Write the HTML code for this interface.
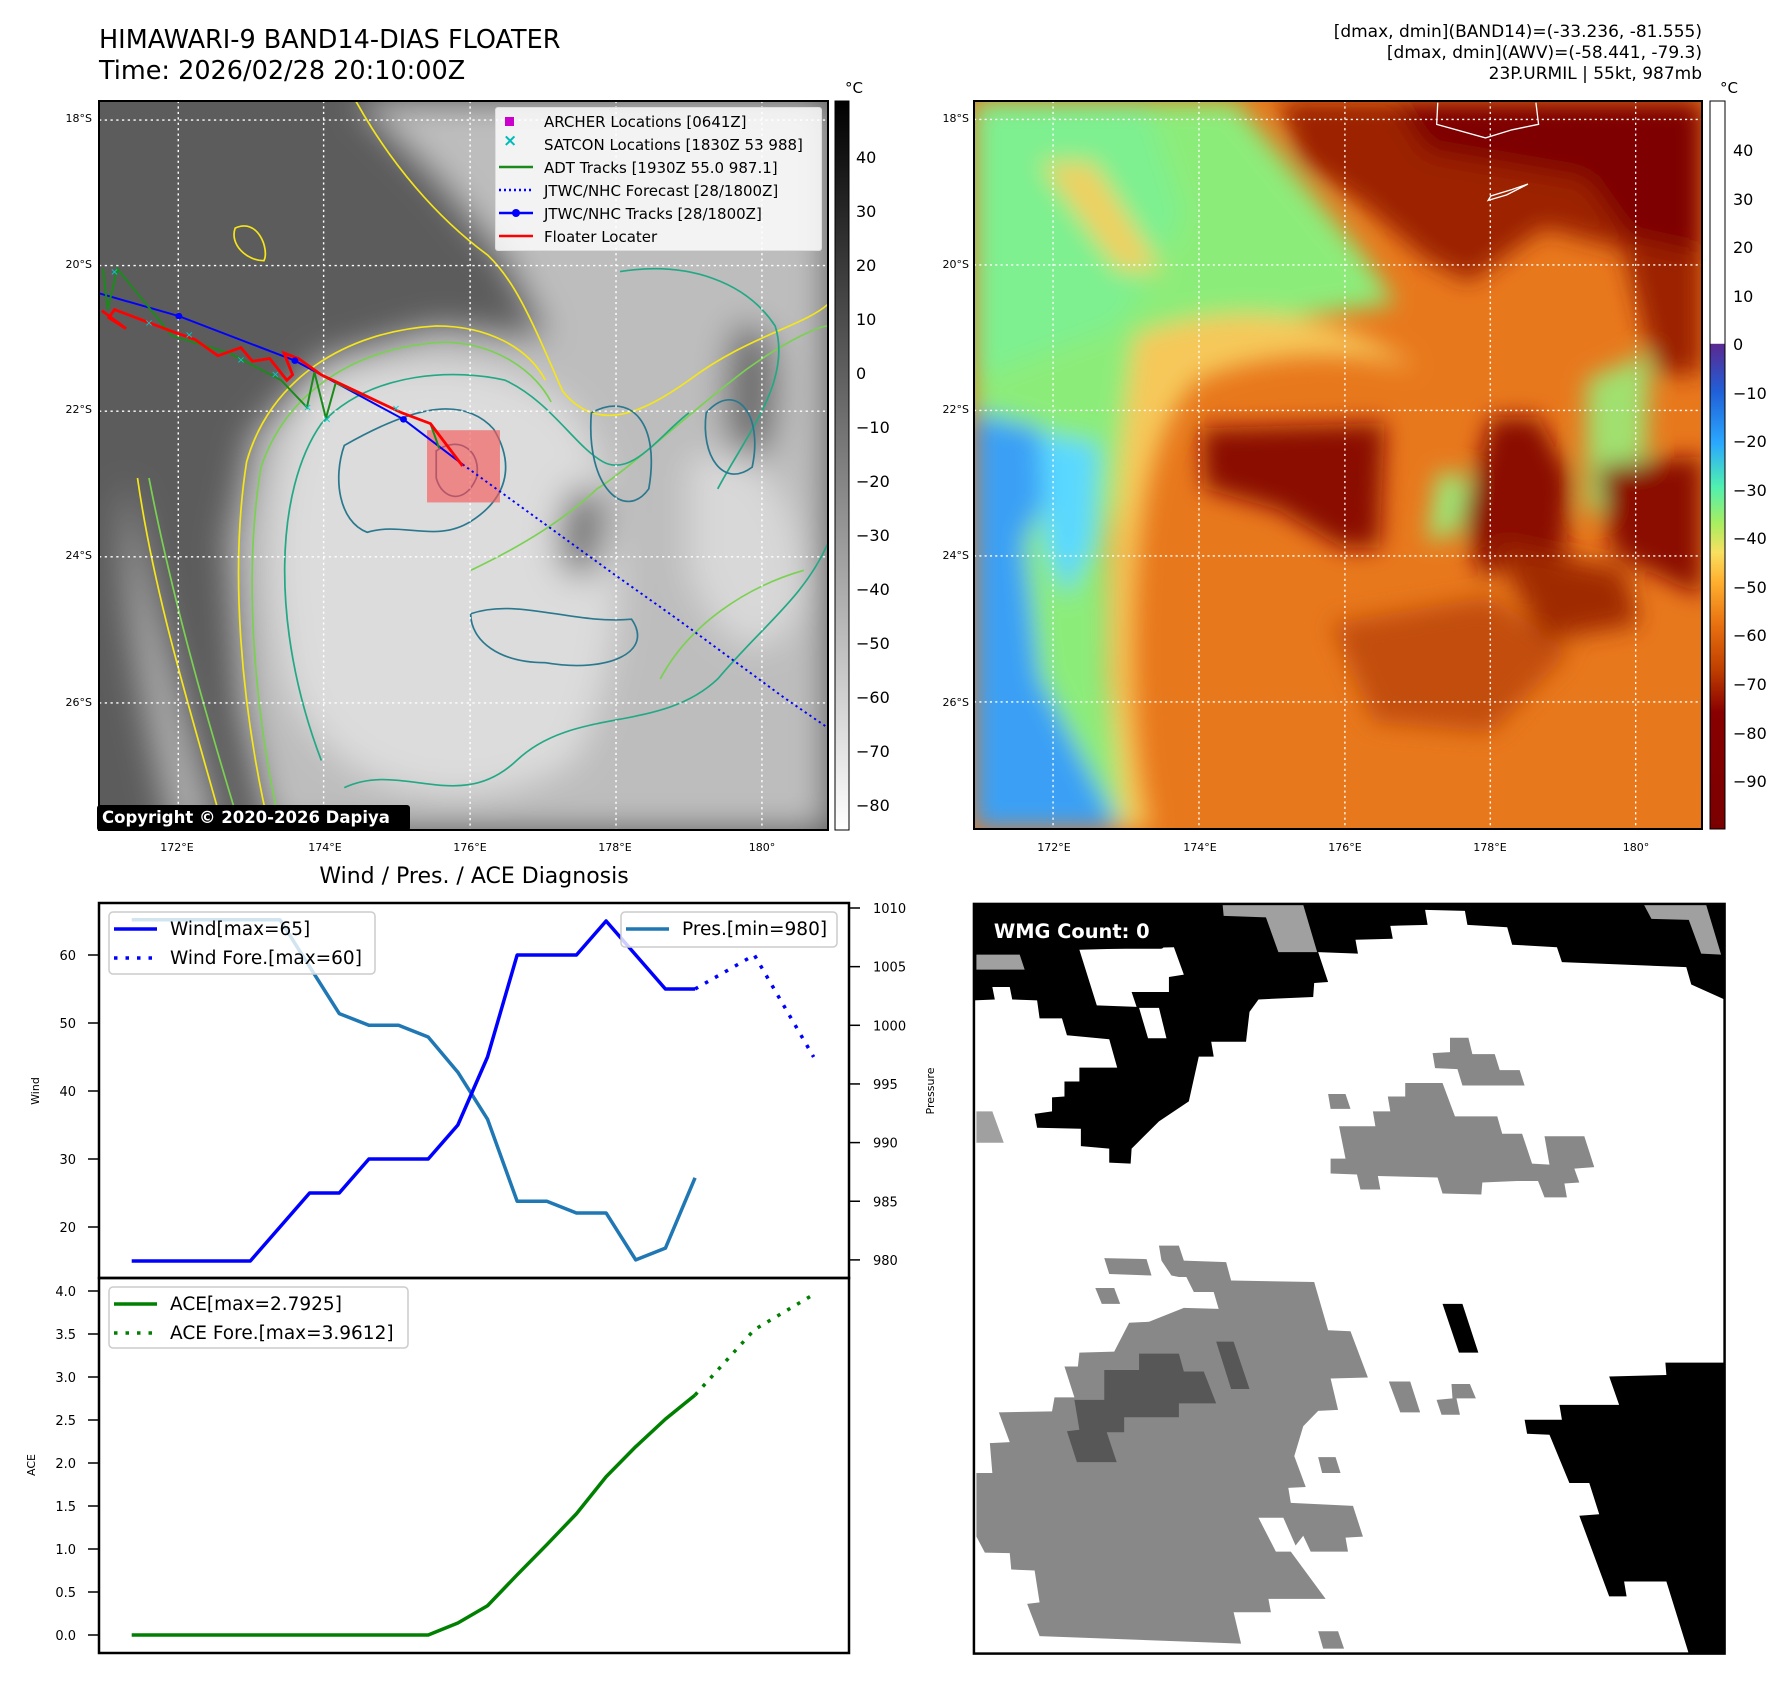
<!DOCTYPE html>
<html><head><meta charset="utf-8">
<style>
body{margin:0;background:#fff;}
#page{position:relative;width:1792px;height:1690px;overflow:hidden;background:#fff;font-family:"Liberation Sans","DejaVu Sans",sans-serif;color:#000;}
.abs{position:absolute;}
svg text{font-family:"DejaVu Sans","Liberation Sans",sans-serif;}
</style></head>
<body>
<div id="page">

<div class="abs" style="left:99px;top:25px;font-family:'DejaVu Sans',sans-serif;font-size:25.5px;line-height:31px;">HIMAWARI-9 BAND14-DIAS FLOATER<br>Time: 2026/02/28 20:10:00Z</div>
<div class="abs" style="right:90px;top:22px;text-align:right;font-family:'DejaVu Sans',sans-serif;font-size:17px;line-height:21px;">[dmax, dmin](BAND14)=(-33.236, -81.555)<br>[dmax, dmin](AWV)=(-58.441, -79.3)<br>23P.URMIL | 55kt, 987mb</div>

<!-- LEFT MAP -->
<svg class="abs" style="left:99px;top:101px" width="729" height="729" viewBox="173 186 1269 1342" preserveAspectRatio="none">
<defs>
<filter id="b1" x="-20%" y="-20%" width="140%" height="140%"><feGaussianBlur stdDeviation="30"/></filter>
</defs>
<rect x="173" y="186" width="1269" height="1342" fill="#5c5c5c"/>
<g filter="url(#b1)">
<path d="M620,186 L760,330 L880,480 L950,620 L760,600 L560,660 L440,800 L400,1000 L420,1300 L470,1528 L1442,1528 L1442,186 Z" fill="#bdbdbd"/>
<path d="M540,720 C700,640 900,660 1000,760 C1100,900 1100,1200 1000,1400 C800,1528 560,1450 500,1250 C460,1050 470,850 540,720 Z" fill="#dcdcdc"/>
<path d="M1200,850 C1300,800 1400,900 1400,1100 C1350,1250 1250,1200 1200,1050 Z" fill="#d8d8d8"/>
<path d="M1000,900 C1050,880 1080,950 1030,1060 C980,1080 950,1000 1000,900 Z" fill="#707070"/>
<path d="M1280,600 C1330,580 1380,640 1340,820 C1300,880 1230,820 1280,600 Z" fill="#6a6a6a"/>
<path d="M220,880 C260,1100 320,1300 380,1528 L300,1528 C250,1300 210,1100 220,880 Z" fill="#b0b0b0"/>
</g>
<g fill="none" stroke-width="3">
<path d="M470,1528 C420,1300 400,1050 430,850 C470,700 600,610 760,600 C850,600 920,640 950,700" stroke="#f5e51b"/>
<path d="M620,186 C680,300 760,400 850,470 C900,520 930,600 980,720 C1040,800 1120,760 1200,700 C1300,620 1400,600 1442,560" stroke="#f5e51b"/>
<path d="M240,880 C270,1100 330,1300 390,1528" stroke="#f5e51b"/>
<path d="M260,880 C300,1100 360,1320 420,1528" stroke="#7ad151"/>
<path d="M490,1528 C440,1300 425,1050 455,860 C500,720 620,640 770,630 C860,630 930,680 960,740" stroke="#7ad151"/>
<path d="M820,1050 C900,1010 980,960 1040,900 C1100,860 1200,760 1300,680 C1380,620 1430,600 1442,600" stroke="#7ad151"/>
<path d="M1150,1250 C1200,1150 1300,1080 1400,1050" stroke="#7ad151"/>
<path d="M560,1400 C470,1150 480,900 560,780 C650,680 800,680 880,700 C960,740 1000,820 1050,850 C1100,880 1150,800 1200,760" stroke="#22a884"/>
<path d="M600,1450 C700,1400 800,1500 900,1400 C1000,1300 1150,1350 1250,1250 C1330,1150 1400,1100 1442,1000" stroke="#22a884"/>
<path d="M1080,500 C1200,480 1300,520 1350,600 C1380,700 1300,800 1250,900" stroke="#22a884"/>
<path d="M600,820 C700,760 800,720 860,790 C900,860 880,920 820,960 C760,1000 700,960 640,980 C590,960 580,880 600,820 Z" stroke="#2a788e"/>
<path d="M820,1130 C900,1100 1000,1150 1100,1140 C1140,1200 1060,1240 950,1220 C870,1220 820,1180 820,1130 Z" stroke="#2a788e"/>
<path d="M1030,760 C1100,720 1150,780 1130,900 C1090,960 1020,900 1030,760 Z" stroke="#2a788e"/>
<path d="M1230,760 C1280,700 1330,760 1310,860 C1260,900 1220,840 1230,760 Z" stroke="#2a788e"/>
<path d="M760,830 C800,800 840,830 830,880 C810,930 770,920 760,880 Z" stroke="#3b528b"/>
<path d="M410,420 C450,400 470,460 460,480 C430,480 400,450 410,420 Z" stroke="#f5e51b"/>
</g>
<g stroke="#fff" stroke-width="2.5" stroke-dasharray="4 6">
<line x1="173" y1="221" x2="1442" y2="221"/><line x1="173" y1="489" x2="1442" y2="489"/><line x1="173" y1="757" x2="1442" y2="757"/><line x1="173" y1="1025" x2="1442" y2="1025"/><line x1="173" y1="1294" x2="1442" y2="1294"/>
<line x1="311" y1="186" x2="311" y2="1528"/><line x1="564" y1="186" x2="564" y2="1528"/><line x1="819" y1="186" x2="819" y2="1528"/><line x1="1073" y1="186" x2="1073" y2="1528"/><line x1="1327" y1="186" x2="1327" y2="1528"/>
</g>
<rect x="744" y="792" width="127" height="133" fill="rgba(245,90,90,0.65)"/>
<g fill="none" stroke-width="3.5">
<polyline points="806,855 1068,1056 1180,1140 1365,1284 1442,1340" stroke="#0000ff" stroke-dasharray="4 6"/>
<polyline points="173,540 312,582 514,664 703,772 806,855" stroke="#0000ff"/>
<polyline points="180,495 188,570 205,495 300,618 400,650 490,700 535,750 548,685 568,770 585,705 700,760 750,780 765,825" stroke="#1a8a1a"/>
<polyline points="178,572 220,605 190,585 200,570 300,610 340,625 380,655 420,640 440,665 470,660 500,700 510,690 495,650 520,660 560,690 640,730 700,760 750,780 806,858" stroke="#ff0000" stroke-width="5"/>
</g>
<g fill="#0000ff"><circle cx="312" cy="582" r="6"/><circle cx="514" cy="664" r="6"/><circle cx="703" cy="772" r="6"/></g>
<g fill="#00cccc" font-size="18" text-anchor="middle"><text x="200" y="506">×</text><text x="260" y="600">×</text><text x="330" y="622">×</text><text x="420" y="668">×</text><text x="480" y="695">×</text><text x="536" y="756">×</text><text x="570" y="778">×</text><text x="690" y="758">×</text></g>
</svg>
<div class="abs" style="left:98px;top:100px;width:727px;height:727px;border:2.5px solid #000;"></div>

<div class="abs" style="left:495px;top:107px;width:325px;height:142px;background:rgba(255,255,255,0.82);border:1px solid #ddd;border-radius:3px;"></div>
<svg class="abs" style="left:495px;top:107px" width="330" height="145">
<rect x="10" y="10" width="9" height="9" fill="#cc00cc"/>
<text x="8" y="39" fill="#00bbbb" font-size="17" font-weight="bold">×</text>
<line x1="4" y1="60" x2="38" y2="60" stroke="#1a8a1a" stroke-width="2.5"/>
<line x1="4" y1="83" x2="38" y2="83" stroke="#0000ff" stroke-width="2.5" stroke-dasharray="2 3"/>
<line x1="4" y1="106" x2="38" y2="106" stroke="#0000ff" stroke-width="2.5"/><circle cx="21" cy="106" r="4" fill="#0000ff"/>
<line x1="4" y1="129" x2="38" y2="129" stroke="#ff0000" stroke-width="2.5"/>
<g font-size="15" fill="#000">
<text x="49" y="20">ARCHER Locations [0641Z]</text>
<text x="49" y="43">SATCON Locations [1830Z 53 988]</text>
<text x="49" y="66">ADT Tracks [1930Z 55.0 987.1]</text>
<text x="49" y="89">JTWC/NHC Forecast [28/1800Z]</text>
<text x="49" y="112">JTWC/NHC Tracks [28/1800Z]</text>
<text x="49" y="135">Floater Locater</text>
</g>
</svg>
<div class="abs" style="left:97px;top:805px;width:313px;height:26px;background:#000;color:#fff;font-weight:bold;font-size:16.5px;line-height:26px;padding-left:5px;box-sizing:border-box;border-radius:3px;font-family:'DejaVu Sans',sans-serif;">Copyright © 2020-2026 Dapiya</div>

<!-- RIGHT MAP -->
<svg class="abs" style="left:974px;top:101px" width="728" height="728" viewBox="26 187 1372 1341" preserveAspectRatio="none">
<defs><filter id="b2" x="-20%" y="-20%" width="140%" height="140%"><feGaussianBlur stdDeviation="22"/></filter></defs>
<rect x="26" y="187" width="1372" height="1341" fill="#e8781c"/>
<g filter="url(#b2)">
<path d="M26,187 L520,187 L640,330 L760,470 L820,560 L600,590 L430,650 L320,780 L280,1000 L280,1250 L310,1528 L26,1528 Z" fill="#8cec7a"/>
<path d="M26,187 L350,187 L420,400 L300,600 L26,700 Z" fill="#7ef090"/>
<path d="M26,760 L150,790 L180,880 L120,1000 L150,1250 L300,1528 L26,1528 Z" fill="#3aa0f5"/>
<path d="M150,800 L260,820 L250,1000 L200,1100 L160,1000 Z" fill="#5ad8ff"/>
<path d="M330,620 C480,560 700,560 860,680 C760,650 600,640 450,700 C380,760 340,900 330,1100 C320,1300 340,1450 360,1528 L310,1528 C280,1300 270,1000 330,620 Z" fill="#f6c85a"/>
<path d="M150,300 L300,500 L380,500 L250,300 Z" fill="#f0d060"/>
<path d="M900,870 L960,880 L940,980 L880,1000 Z" fill="#9ce878"/>
<path d="M1180,700 L1300,650 L1290,900 L1180,950 Z" fill="#a0e070"/>
<path d="M1300,187 L1398,187 L1398,400 L1330,300 Z" fill="#9ce878"/>
<path d="M455,790 L800,780 L790,1010 L720,1010 L600,940 L460,900 Z" fill="#8a0c00"/>
<path d="M600,187 L1398,187 L1398,690 L1310,690 L1250,460 L1100,420 L960,520 L880,480 L760,380 L640,300 Z" fill="#9c2200"/>
<path d="M820,187 L1398,187 L1398,470 L1260,440 L1180,330 L1000,300 L880,280 Z" fill="#7e0000"/>
<path d="M1000,770 L1090,770 L1150,880 L1140,1020 L980,1060 L950,950 Z" fill="#8a1000"/>
<path d="M1200,860 L1398,840 L1398,1100 L1230,1020 Z" fill="#8a0c00"/>
<path d="M700,1150 L1000,1100 L1150,1200 L1000,1350 L780,1330 Z" fill="#c24e10"/>
<path d="M1000,1000 L1250,1050 L1280,1150 L1100,1180 Z" fill="#a02a00"/>
</g>
<g fill="none" stroke="#fff" stroke-width="2.5">
<path d="M900,190 L898,230 L990,255 L1040,240 L1090,230 L1085,190"/>
<path d="M995,370 L1030,360 L1060,345 L1070,340 L1040,350 L1000,362 Z"/>
</g>
<g stroke="#fff" stroke-width="2.5" stroke-dasharray="4 6">
<line x1="26" y1="221" x2="1398" y2="221"/><line x1="26" y1="489" x2="1398" y2="489"/><line x1="26" y1="757" x2="1398" y2="757"/><line x1="26" y1="1025" x2="1398" y2="1025"/><line x1="26" y1="1294" x2="1398" y2="1294"/>
<line x1="175" y1="187" x2="175" y2="1528"/><line x1="450" y1="187" x2="450" y2="1528"/><line x1="725" y1="187" x2="725" y2="1528"/><line x1="999" y1="187" x2="999" y2="1528"/><line x1="1273" y1="187" x2="1273" y2="1528"/>
</g>
</svg>
<div class="abs" style="left:973px;top:100px;width:726px;height:726px;border:2.5px solid #000;"></div>

<!-- Map axis labels -->
<svg class="abs" style="left:0;top:0" width="1792" height="880">
<g font-size="11" text-anchor="end">
<text x="92" y="122">18°S</text><text x="92" y="268">20°S</text><text x="92" y="413">22°S</text><text x="92" y="559">24°S</text><text x="92" y="706">26°S</text>
</g>
<g font-size="11" text-anchor="end">
<text x="969" y="122">18°S</text><text x="969" y="268">20°S</text><text x="969" y="413">22°S</text><text x="969" y="559">24°S</text><text x="969" y="706">26°S</text>
</g>
<g font-size="11" text-anchor="middle">
<text x="177" y="851">172°E</text><text x="325" y="851">174°E</text><text x="470" y="851">176°E</text><text x="615" y="851">178°E</text><text x="762" y="851">180°</text>
</g>
<g font-size="11" text-anchor="middle">
<text x="1054" y="851">172°E</text><text x="1200" y="851">174°E</text><text x="1345" y="851">176°E</text><text x="1490" y="851">178°E</text><text x="1636" y="851">180°</text>
</g>
<defs>
<linearGradient id="gcb" x1="0" y1="0" x2="0" y2="1"><stop offset="0" stop-color="#000"/><stop offset="1" stop-color="#fff"/></linearGradient>
<linearGradient id="ccb" x1="0" y1="0" x2="0" y2="1">
<stop offset="0" stop-color="#fff"/><stop offset="0.333" stop-color="#fff"/>
<stop offset="0.334" stop-color="#5a2890"/><stop offset="0.40" stop-color="#2060d8"/>
<stop offset="0.47" stop-color="#2aa8ff"/><stop offset="0.53" stop-color="#50f0b0"/>
<stop offset="0.58" stop-color="#a8ee60"/><stop offset="0.62" stop-color="#f8e060"/>
<stop offset="0.66" stop-color="#ffb030"/><stop offset="0.72" stop-color="#e87010"/>
<stop offset="0.78" stop-color="#c04000"/><stop offset="0.84" stop-color="#880000"/>
<stop offset="1" stop-color="#7a0000"/></linearGradient>
</defs>
<rect x="835" y="101" width="14" height="729" fill="url(#gcb)" stroke="#000" stroke-width="1"/>
<rect x="1710" y="101" width="15" height="728" fill="url(#ccb)" stroke="#000" stroke-width="1"/>
<text x="845" y="93" font-size="15">°C</text>
<text x="1720" y="93" font-size="15">°C</text>
<g font-size="16">
<text x="856" y="163">40</text><text x="856" y="217">30</text><text x="856" y="271">20</text><text x="856" y="325">10</text><text x="856" y="379">0</text><text x="856" y="433">−10</text><text x="856" y="487">−20</text><text x="856" y="541">−30</text><text x="856" y="595">−40</text><text x="856" y="649">−50</text><text x="856" y="703">−60</text><text x="856" y="757">−70</text><text x="856" y="811">−80</text>
</g>
<g font-size="16">
<text x="1733" y="156">40</text><text x="1733" y="205">30</text><text x="1733" y="253">20</text><text x="1733" y="302">10</text><text x="1733" y="350">0</text><text x="1733" y="399">−10</text><text x="1733" y="447">−20</text><text x="1733" y="496">−30</text><text x="1733" y="544">−40</text><text x="1733" y="593">−50</text><text x="1733" y="641">−60</text><text x="1733" y="690">−70</text><text x="1733" y="739">−80</text><text x="1733" y="787">−90</text>
</g>
</svg>

<!-- WMG panel -->
<svg class="abs" style="left:960px;top:890px" width="780" height="780" viewBox="0 0 1568 1568">
<rect x="28" y="28" width="1509" height="1507" fill="#fff"/>
<polygon fill="#000" points="28,28 1537,28 1537,220 1470,190 1460,155 1210,145 1200,115 1110,110 1100,75 1020,70 1015,42 935,40 940,70 865,72 870,98 795,100 800,128 720,125 740,185 712,187 710,215 600,220 582,245 575,305 505,305 510,335 480,335 460,425 400,465 345,520 343,550 300,548 300,520 243,515 243,480 155,478 150,450 185,445 185,417 210,415 210,385 240,385 240,357 316,357 300,300 215,292 205,258 160,258 155,222 105,220 100,195 65,195 70,220 28,222"/>
<polygon fill="#fff" points="240,120 430,115 450,170 420,175 420,205 345,205 355,235 275,232"/>
<polygon fill="#fff" points="360,237 400,237 415,298 378,298"/>
<g fill="#a0a0a0">
<polygon points="528,30 690,30 718,125 640,125 615,55 530,52"/>
<polygon points="1375,30 1500,30 1530,130 1490,128 1465,60 1390,58"/>
<polygon points="33,130 120,130 130,160 33,160"/>
<polygon points="33,445 65,445 88,508 33,508"/>
<polygon points="1370,1040 1530,1040 1537,1365 1525,1365 1520,1335 1470,1332 1465,1300 1500,1300 1480,1235 1355,1230 1345,1200 1385,1200 1375,1170 1410,1168 1405,1140 1445,1138 1435,1105 1390,1103"/>
</g>
<g fill="#888">
<polygon points="985,297 1022,297 1030,330 1075,330 1085,362 1125,362 1135,393 1010,393 1000,360 955,358 950,328 985,326"/>
<polygon points="740,410 775,410 785,440 745,440"/>
<polygon points="830,445 865,445 860,415 895,415 895,388 970,388 995,455 1080,455 1090,490 1130,490 1150,550 1185,552 1175,495 1255,495 1275,557 1235,560 1245,588 1215,590 1220,618 1175,618 1162,585 1120,585 1050,588 1048,612 970,610 960,578 840,575 845,602 805,602 798,572 745,570 745,540 775,540 762,475 835,475"/>
<polygon points="400,715 440,715 450,745 535,748 545,785 712,788 740,885 785,887 820,980 745,982 760,1045 720,1047 690,1078 672,1138 695,1200 660,1202 665,1232 790,1238 810,1300 775,1302 780,1330 705,1330 690,1298 665,1330 735,1425 620,1425 625,1452 550,1452 565,1515 160,1500 135,1435 160,1432 150,1368 103,1366 100,1333 50,1332 33,1300 33,1172 65,1172 60,1112 100,1110 78,1050 185,1048 190,1020 230,1020 210,958 237,958 240,930 310,928 340,870 380,868 450,840 520,842 510,808 460,808 440,778 425,775 405,745"/>
<polygon points="272,800 310,800 322,832 285,832"/>
<polygon points="290,740 375,742 385,775 300,772"/>
<polygon points="720,1140 755,1140 765,1172 728,1172"/>
<polygon points="720,1490 760,1490 772,1525 730,1525"/>
<polygon points="862,988 905,988 925,1050 885,1050"/>
<polygon points="988,993 1025,993 1037,1022 998,1022 1005,1055 968,1055 958,1025 990,1022"/>
</g>
<polygon fill="#fff" points="600,1262 650,1262 680,1330 635,1330"/>
<polygon fill="#fff" points="430,778 455,778 470,808 440,808"/>
<g fill="#575757">
<polygon points="360,932 440,932 450,968 490,968 515,1032 440,1032 440,1060 330,1060 330,1090 295,1090 315,1150 235,1150 215,1088 240,1085 230,1025 290,1025 290,965 360,965"/>
<polygon points="515,908 550,908 582,1003 545,1003"/>
</g>
<polygon fill="#000" points="970,832 1010,832 1042,930 1003,930"/>
<polygon fill="#000" points="1537,950 1418,950 1420,975 1305,978 1325,1035 1205,1035 1210,1065 1135,1065 1140,1093 1185,1095 1225,1192 1265,1192 1285,1255 1245,1258 1305,1420 1340,1420 1335,1390 1420,1390 1465,1535 1537,1535"/>
<rect x="33" y="33" width="377" height="85" rx="6" fill="#000"/>
<text x="68" y="97" fill="#fff" font-weight="bold" font-size="39">WMG Count: 0</text>
<rect x="28" y="28" width="1509" height="1507" fill="none" stroke="#000" stroke-width="5"/>
</svg>

<!-- Diagnosis chart -->
<svg class="abs" id="chart" style="left:0;top:0" width="1792" height="1690"></svg>

<script>
const windObs = [15,15,15,15,15,20,25,25,30,30,30,35,45,60,60,60,65,60,55,55];
const windFcstIdx = [19,21,23];
const windFcst = [55,60,45];
const presObs = [1009,1009,1009,1009,1009,1009,1005,1001,1000,1000,999,996,992,985,985,984,984,980,981,987];
const aceObs = [0,0,0,0,0,0,0,0,0,0,0,0.14,0.34,0.7,1.05,1.41,1.84,2.19,2.51,2.79];
const aceFcstIdx = [19,21,23];
const aceFcst = [2.79,3.55,3.96];
const windTicks = [20,30,40,50,60];
const presTicks = [980,985,990,995,1000,1005,1010];
const aceTicks = [0.0,0.5,1.0,1.5,2.0,2.5,3.0,3.5,4.0];

const NS='http://www.w3.org/2000/svg';
const svg=document.getElementById('chart');
function xi(i){return 131.7+i*29.65;}
function yW(v){return 955+(60-v)*6.8;}
function yP(p){return 908+(1010-p)*11.73;}
function yA(a){return 1635-a*86;}
function mk(tag,attrs,parent){const e=document.createElementNS(NS,tag);for(const k in attrs)e.setAttribute(k,attrs[k]);(parent||svg).appendChild(e);return e;}
function line(pts,color,dash,name){
  const p=mk('polyline',{points:pts.map(q=>q.join(',')).join(' '),fill:'none',stroke:color,'stroke-width':3.5,'stroke-dasharray':dash||'none','stroke-linejoin':'round'});
  
  
  return p;
}
function txt(x,y,s,size,anchor,rot){const t=mk('text',{x:x,y:y,'font-size':size,'text-anchor':anchor||'start'});if(rot)t.setAttribute('transform','rotate(-90 '+x+' '+y+')');t.textContent=s;return t;}

const title=txt(474,883,'Wind / Pres. / ACE Diagnosis',22,'middle');



const f1=mk('rect',{x:99,y:903,width:750,height:375,fill:'none',stroke:'#000','stroke-width':2.5});


const f2=mk('rect',{x:99,y:1278,width:750,height:375,fill:'none',stroke:'#000','stroke-width':2.5});



windTicks.forEach(v=>{mk('line',{x1:88,x2:99,y1:yW(v),y2:yW(v),stroke:'#000','stroke-width':1.5});const t=txt(76,yW(v)+5,String(v),13,'end');});
presTicks.forEach(v=>{mk('line',{x1:849,x2:860,y1:yP(v),y2:yP(v),stroke:'#000','stroke-width':1.5});const t=txt(873,yP(v)+5,String(v),13,'start');});
aceTicks.forEach(v=>{mk('line',{x1:88,x2:99,y1:yA(v),y2:yA(v),stroke:'#000','stroke-width':1.5});const t=txt(76,yA(v)+5,v.toFixed(1),13,'end');});

const yl1=txt(39,1091,'Wind',11,'middle',true);
const yl2=txt(934,1091,'Pressure',11,'middle',true);
const yl3=txt(35,1465,'ACE',11,'middle',true);

line(presObs.map((v,i)=>[xi(i),yP(v)]),'#1f77b4',null,'pressure-line');
line(windObs.map((v,i)=>[xi(i),yW(v)]),'#0000ff',null,'wind-line');
line(windFcst.map((v,k)=>[xi(windFcstIdx[k]),yW(v)]),'#0000ff','3.5 8','wind-forecast-line');
line(aceObs.map((v,i)=>[xi(i),yA(v)]),'#008000',null,'ace-line');
line(aceFcst.map((v,k)=>[xi(aceFcstIdx[k]),yA(v)]),'#008000','3.5 8','ace-forecast-line');

function legend(x,y,w,h,rows,name){
  const g=mk('g',{});
  
  
  mk('rect',{x:x,y:y,width:w,height:h,rx:4,fill:'rgba(255,255,255,0.8)',stroke:'#ccc','stroke-width':1.5},g);
  rows.forEach((r,k)=>{const yy=y+17+k*29;
    mk('line',{x1:x+5,x2:x+48,y1:yy,y2:yy,stroke:r[1],'stroke-width':3.5,'stroke-dasharray':r[2]||'none'},g);
    const t=mk('text',{x:x+61,y:yy+6,'font-size':18.5},g);t.textContent=r[0];});
}
legend(109,912,266,62,[['Wind[max=65]','#0000ff'],['Wind Fore.[max=60]','#0000ff','3.5 8']],'wind-legend');
legend(621,912,216,35,[['Pres.[min=980]','#1f77b4']],'pressure-legend');
legend(109,1287,299,61,[['ACE[max=2.7925]','#008000'],['ACE Fore.[max=3.9612]','#008000','3.5 8']],'ace-legend');
</script>
</div>
</body></html>
